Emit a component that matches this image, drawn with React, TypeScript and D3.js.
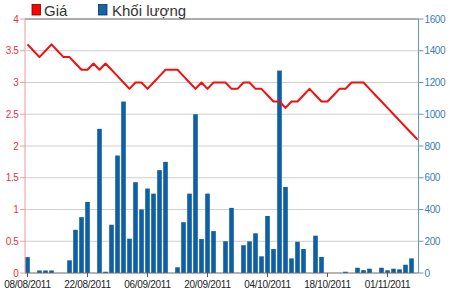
import React from "react";
import * as d3 from "d3";

const dates = [
  "08/08/2011","09/08/2011","10/08/2011","11/08/2011","12/08/2011",
  "15/08/2011","16/08/2011","17/08/2011","18/08/2011","19/08/2011",
  "22/08/2011","23/08/2011","24/08/2011","25/08/2011","26/08/2011",
  "29/08/2011","30/08/2011","31/08/2011","01/09/2011","05/09/2011",
  "06/09/2011","07/09/2011","08/09/2011","09/09/2011","12/09/2011",
  "13/09/2011","14/09/2011","15/09/2011","16/09/2011","19/09/2011",
  "20/09/2011","21/09/2011","22/09/2011","23/09/2011","26/09/2011",
  "27/09/2011","28/09/2011","29/09/2011","30/09/2011","03/10/2011",
  "04/10/2011","05/10/2011","06/10/2011","07/10/2011","10/10/2011",
  "11/10/2011","12/10/2011","13/10/2011","14/10/2011","17/10/2011",
  "18/10/2011","19/10/2011","20/10/2011","21/10/2011","24/10/2011",
  "25/10/2011","26/10/2011","27/10/2011","28/10/2011","31/10/2011",
  "01/11/2011","02/11/2011","03/11/2011","04/11/2011","07/11/2011",
  "08/11/2011",
];

const price = [
  3.6, 3.5, 3.4, 3.5, 3.6, 3.5, 3.4, 3.4, 3.3, 3.2,
  3.2, 3.3, 3.2, 3.3, 3.2, 3.1, 3.0, 2.9, 3.0, 3.0,
  2.9, 3.0, 3.1, 3.2, 3.2, 3.2, 3.1, 3.0, 2.9, 3.0,
  2.9, 3.0, 3.0, 3.0, 2.9, 2.9, 3.0, 3.0, 2.9, 2.9,
  2.8, 2.7, 2.7, 2.6, 2.7, 2.7, 2.8, 2.9, 2.8, 2.7,
  2.7, 2.8, 2.9, 2.9, 3.0, 3.0, 3.0, 2.9, 2.8, 2.7,
  2.6, 2.5, 2.4, 2.3, 2.2, 2.1,
];

const volume = [
  100, 0, 16, 16, 16, 0, 0, 80, 272, 352,
  448, 0, 908, 8, 304, 740, 1080, 216, 572, 400,
  532, 500, 648, 700, 0, 36, 320, 500, 1000, 214,
  500, 264, 0, 200, 410, 0, 175, 199, 250, 105,
  359, 151, 1275, 542, 92, 197, 151, 0, 235, 101,
  0, 0, 0, 8, 0, 33, 18, 27, 0, 33,
  17, 27, 23, 52, 92, 0,
];

const xTickLabels = ["08/08/2011", "22/08/2011", "06/09/2011", "20/09/2011", "04/10/2011", "18/10/2011", "01/11/2011"];
const leftTicks = [0, 0.5, 1, 1.5, 2, 2.5, 3, 3.5, 4];
const rightTicks = [0, 200, 400, 600, 800, 1000, 1200, 1400, 1600];
const legendLabels = ["Giá", "Khối lượng"];

const W = 450, H = 291;
const L = 25, R = 418.5, T = 19, B = 273;

export default function App() {
  const x = d3.scalePoint<string>().domain(dates).range([27.5, 417.5]);
  const yL = d3.scaleLinear().domain([0, 4]).range([B, T]);
  const yR = d3.scaleLinear().domain([0, 1600]).range([B, T]);
  const line = d3.line<number>().x((_, i) => x(dates[i]) as number).y((d) => yL(d));
  const barW = 4.6;
  const font = "'Liberation Sans', Arial, sans-serif";

  return (
    <svg width={W} height={H} style={{ position: "absolute", left: 0, top: 0, background: "#fff" }} fontFamily={font}>
      {/* grid */}
      {leftTicks.filter((t) => t > 0 && t < 4).map((t) => (
        <line key={"g" + t} x1={L} x2={R} y1={yL(t)} y2={yL(t)} stroke="#cfcfcf" strokeWidth={1} />
      ))}
      <line x1={L} x2={R} y1={T} y2={T} stroke="#5a5a5a" strokeWidth={1} />
      {/* bars */}
      {volume.map((v, i) =>
        v > 0 ? (
          <rect key={"b" + i} x={(x(dates[i]) as number) - barW / 2} y={yR(v)} width={barW} height={B - yR(v)} fill="#0f5fa6" />
        ) : null
      )}
      {/* price line */}
      <path d={line(price) as string} fill="none" stroke="#f01010" strokeWidth={2} strokeLinejoin="round" />
      {/* bottom axis */}
      <line x1={L} x2={R} y1={B} y2={B} stroke="#6a6a6a" strokeWidth={1} />
      {xTickLabels.map((lab) => (
        <g key={lab} transform={`translate(${x(lab)},0)`}>
          <line y1={B} y2={B + 4} stroke="#555" />
          <text y={288} textAnchor="middle" fontSize={10} letterSpacing={-0.3} fill="#222">{lab}</text>
        </g>
      ))}
      {/* left axis */}
      <line x1={L} x2={L} y1={T} y2={B} stroke="#f29a9a" strokeWidth={1} />
      {leftTicks.map((t) => (
        <g key={"l" + t}>
          <line x1={L - 5} x2={L} y1={yL(t)} y2={yL(t)} stroke="#f29a9a" />
          <text x={18.5} y={yL(t)} dy="0.35em" textAnchor="end" fontSize={10} letterSpacing={-0.4} fill="#e8323f">{t}</text>
        </g>
      ))}
      {/* right axis */}
      <line x1={R} x2={R} y1={T} y2={B} stroke="#5a9ccb" strokeWidth={1} />
      {rightTicks.map((t) => (
        <g key={"r" + t}>
          <line x1={R} x2={R + 5} y1={yR(t)} y2={yR(t)} stroke="#5a9ccb" />
          <text x={R + 6} y={yR(t)} dy="0.35em" textAnchor="start" fontSize={10} letterSpacing={-0.4} fill="#3a7fb5">{t}</text>
        </g>
      ))}
      {/* legend */}
      <rect x={32} y={4.5} width={8.5} height={10.5} fill="#ff0000" stroke="#700" strokeWidth={0.8} />
      <text x={44} y={16} fontSize={15} fill="#333">{legendLabels[0]}</text>
      <rect x={98.5} y={4.5} width={8.5} height={10.5} fill="#1464a8" stroke="#0a3560" strokeWidth={0.8} />
      <text x={112} y={16} fontSize={15} fill="#333">{legendLabels[1]}</text>
    </svg>
  );
}
